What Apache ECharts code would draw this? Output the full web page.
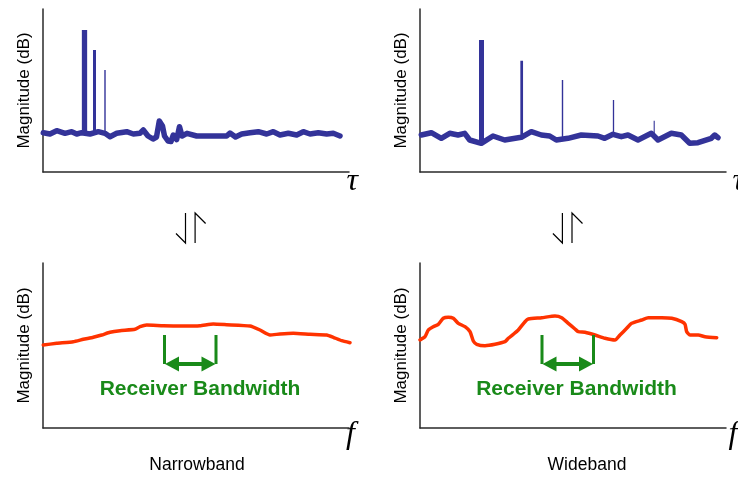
<!DOCTYPE html>
<html>
<head>
<meta charset="utf-8">
<script src="https://cdn.jsdelivr.net/npm/echarts@6/dist/echarts.min.js"></script>
<style>
html,body{margin:0;padding:0;background:#fff;}
#chart{width:738px;height:477px;}
</style>
</head>
<body>
<div id="chart"></div>
<script>
// ---------- data ----------
// Top-left: narrowband impulse response (time domain)
const nbNoiseX = [0.3,7,13.7,22,28.7,33.7,38.7,47,55.3,62,67,73.7,83.7,90.3,97,100.3,105,110,113.5,116.3,119.5,121.5,125,128,130.3,133.7,136.5,139,144,153.7,183.7,187,192.5,198.7,207,215.3,223.7,230.3,237,245.3,253.7,260.3,267,275.3,283.7,290.3,297];
const nbNoiseY = [39.3,38,41.3,38.7,40.3,38,39.3,38,40.3,38.7,35.3,38.7,40.3,38,38.7,42,36,33,35,51,46,36,31,30.5,37,32.5,45.3,36,38.7,36,36,39,35,38,39.3,40.3,38,40.3,37,38.7,37,40.3,38,39.3,38,38.7,36];
const nbSpikeX = [41.5,51.5,62];
const nbSpikeTop = [142,122,102];
const nbSpikeBase = [40,38.5,38];

// Top-right: wideband impulse response (time domain)
const wbNoiseX = [1.3,11.3,21.3,29.7,38,44.7,49.7,61.3,73,84.7,101.3,111.3,121.3,129.7,136.3,148,161.3,178,184.7,193,201.3,208,218,231.3,238,251.3,261.3,269.7,278,291.3,294.7,298];
const wbNoiseY = [37,39.3,33.7,38.7,37,38.7,32,28.7,36,32,34.7,40.3,37,36,32,33.7,37,36,33.7,37.7,35.3,37,32,38.7,32,38.7,37,28.7,29.3,33.7,37,34.3];
const wbSpikeX = [61.5,101.7,142.5,193.5,234.2];
const wbSpikeTop = [132,111.3,92,72,51.3];
const wbSpikeBase = [29,33,34,38,37];

// Bottom-left: narrowband frequency response
const nbFreqX = [0.3,13.7,30.3,40.3,50.3,58.7,67,77,92,97,103.7,120.3,140.3,157,170.3,183.7,207,217,227,237,250.3,267,283.7,290.3,298.7,307];
const nbFreqY = [83,84.7,86.3,88.7,90.7,93,95.7,97.3,98.7,101.3,103,102.3,102,102.3,104,103.3,102,98,93,94,94.7,93.7,93,90.7,87.3,85.3];

// Bottom-right: wideband frequency response
const wbFreqX = [0,5,8.3,13.3,18.3,23.3,28.3,33.3,38.3,45,50,53.3,56.7,65,75,85,88.3,93.3,98.3,105,108.3,121.7,135,141.7,148.3,155,158.3,165,175,185,195,200,206.7,211.7,221.7,228.3,241.7,251.7,261.7,265,266.7,270,278.3,285,296.7];
const wbFreqY = [88,91.3,98,101.3,103.7,109.7,110.7,109.7,104.7,101.3,96.3,87,83.7,82.3,83.7,86.3,89.7,93.7,98,106.3,109,110.3,112,110.3,104.7,99,96.3,95.7,93,89.7,88,93,99.7,104.7,108,110.3,110.3,109.7,106.3,103.7,96.3,93,93,91.3,90.3];

// Receiver bandwidth markers (edges in x, [low, high] in y)
const nbBandX = [121.5,173];
const wbBandX = [122,173.5];
const bandY = [64,93];

// Texts
const yName = 'Magnitude (dB)';
const timeSymbol = 'τ';
const freqSymbol = 'f';
const bandLabel = 'Receiver Bandwidth';
const panelLabels = ['Narrowband','Wideband'];

// ---------- styles ----------
const BLUE = '#333399';
const RED = '#ff3300';
const GREEN = '#198a19';
const AXIS = '#2a2a2a';
const nbSpikeW = [5.3,3,1.4];
const wbSpikeW = [5,2.7,1.4,1.3,1.1];
const ARROW_INSET = 7.5;   // keeps arrow tips against the bandwidth bars
const SANS = '"Liberation Sans", Arial, sans-serif';
const SERIF = '"Liberation Serif", "Times New Roman", serif';

const zip = (xs, ys) => xs.map((x, i) => [x, ys[i]]);

const grids = [
  {left:43, top:9, width:306, height:163},
  {left:420, top:9, width:306, height:163},
  {left:43, top:263, width:306, height:165},
  {left:420, top:263, width:306, height:165}
];
const xAxes = grids.map((g, i) => ({
  type:'value', gridIndex:i, min:0, max:306,
  axisLine:{show:true, onZero:false, lineStyle:{color:AXIS, width:1.5}},
  axisTick:{show:false}, axisLabel:{show:false}, splitLine:{show:false}
}));
const yAxes = grids.map((g, i) => ({
  type:'value', gridIndex:i, min:0, max:g.height,
  name:yName, nameLocation:'middle', nameGap:10,
  nameTextStyle:{fontSize:17, color:'#000', fontFamily:SANS},
  axisLine:{show:true, onZero:false, lineStyle:{color:AXIS, width:1.5}},
  axisTick:{show:false}, axisLabel:{show:false}, splitLine:{show:false}
}));

const series = [];
function curve(idx, xs, ys, color, width, smooth) {
  series.push({
    type:'line', xAxisIndex:idx, yAxisIndex:idx, data:zip(xs, ys),
    showSymbol:false, symbol:'none', smooth:smooth, clip:false,
    lineStyle:{color:color, width:width, cap:'round', join:'round'},
    silent:true, z:3
  });
}
function spikes(idx, xs, tops, bases, widths) {
  xs.forEach((x, i) => {
    series.push({
      type:'line', xAxisIndex:idx, yAxisIndex:idx,
      data:[[x, bases[i]], [x, tops[i]]],
      showSymbol:false, symbol:'none', silent:true, z:4,
      lineStyle:{color:BLUE, width:widths[i], cap:'butt'}
    });
  });
}
function band(idx, bx) {
  bx.forEach(x => {
    series.push({
      type:'line', xAxisIndex:idx, yAxisIndex:idx,
      data:[[x, bandY[0]], [x, bandY[1]]],
      showSymbol:false, symbol:'none', silent:true, z:5,
      lineStyle:{color:GREEN, width:3, cap:'butt'}
    });
  });
  series.push({
    type:'line', xAxisIndex:idx, yAxisIndex:idx, data:[], silent:true,
    markLine:{
      silent:true, symbol:['triangle','triangle'], symbolSize:[15,14],
      label:{show:false}, animation:false,
      lineStyle:{color:GREEN, width:4, type:'solid'},
      data:[[{coord:[bx[0] + ARROW_INSET, bandY[0]]}, {coord:[bx[1] - ARROW_INSET, bandY[0]]}]]
    }
  });
}

spikes(0, nbSpikeX, nbSpikeTop, nbSpikeBase, nbSpikeW);
curve(0, nbNoiseX, nbNoiseY, BLUE, 5.5, false);
spikes(1, wbSpikeX, wbSpikeTop, wbSpikeBase, wbSpikeW);
curve(1, wbNoiseX, wbNoiseY, BLUE, 5.5, false);
curve(2, nbFreqX, nbFreqY, RED, 3.5, 0.15);
curve(3, wbFreqX, wbFreqY, RED, 3.5, 0.2);
band(2, nbBandX);
band(3, wbBandX);

function harpoons(cx) {
  const a = cx - 4.8, b = cx + 4.8;
  return [
    {type:'polyline', shape:{points:[[a,213],[a,243],[a-9.5,233.5]]}, style:{stroke:'#000', fill:null, lineWidth:1.2}},
    {type:'polyline', shape:{points:[[b+10.5,223.5],[b,213],[b,243]]}, style:{stroke:'#000', fill:null, lineWidth:1.2}}
  ];
}
function txt(x, y, text, font, color, align) {
  return {type:'text', x:x, y:y, style:{text:text, font:font, fill:color, align:align||'center', verticalAlign:'middle'}};
}

const graphic = [
  ...harpoons(190.3),
  ...harpoons(567.2),
  txt(346.5, 182, timeSymbol, 'italic 32px ' + SERIF, '#000', 'left'),
  txt(732.5, 182, timeSymbol, 'italic 32px ' + SERIF, '#000', 'left'),
  txt(346, 435, freqSymbol, 'italic 32px ' + SERIF, '#000', 'left'),
  txt(728.5, 435, freqSymbol, 'italic 32px ' + SERIF, '#000', 'left'),
  txt(200, 389, bandLabel, 'bold 21px ' + SANS, GREEN),
  txt(576.5, 389, bandLabel, 'bold 21px ' + SANS, GREEN),
  txt(197, 465, panelLabels[0], '17.5px ' + SANS, '#000'),
  txt(587, 465, panelLabels[1], '17.5px ' + SANS, '#000')
];

const chart = echarts.init(document.getElementById('chart'), null, {renderer:'canvas'});
chart.setOption({
  animation:false,
  backgroundColor:'#fff',
  grid:grids,
  xAxis:xAxes,
  yAxis:yAxes,
  series:series,
  graphic:graphic
});
</script>
</body>
</html>
